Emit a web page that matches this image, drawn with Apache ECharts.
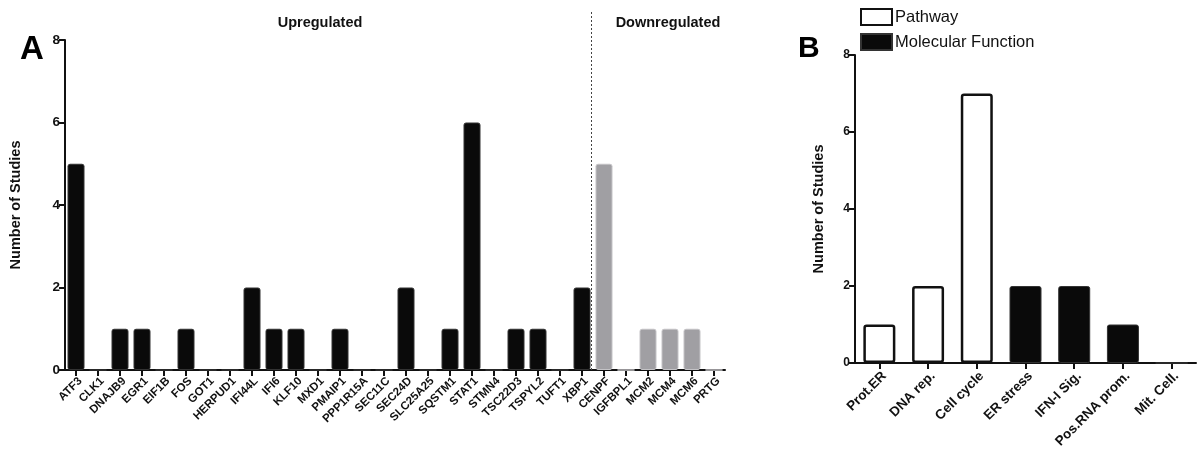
<!DOCTYPE html>
<html><head><meta charset="utf-8">
<script src="https://cdn.jsdelivr.net/npm/echarts@6/dist/echarts.min.js"></script>
<style>html,body{margin:0;padding:0;background:#fff}#c{width:1198px;height:453px}</style>
</head><body><div id="c"></div>
<script>
// Panel A data
const genesA = ['ATF3','CLK1','DNAJB9','EGR1','EIF1B','FOS','GOT1','HERPUD1','IFI44L','IFI6','KLF10','MXD1','PMAIP1','PPP1R15A','SEC11C','SEC24D','SLC25A25','SQSTM1','STAT1','STMN4','TSC22D3','TSPYL2','TUFT1','XBP1','CENPF','IGFBPL1','MCM2','MCM4','MCM6','PRTG'];
const upValues = [5,0,1,1,0,1,0,0,2,1,1,0,1,0,0,2,0,1,6,0,1,1,0,2,'-','-','-','-','-','-'];
const downValues = ['-','-','-','-','-','-','-','-','-','-','-','-','-','-','-','-','-','-','-','-','-','-','-','-',5,0,1,1,1,0];
// Panel B data
const termsB = ['Prot.ER','DNA rep.','Cell cycle','ER stress','IFN-I Sig.','Pos.RNA prom.','Mit. Cell.'];
const pathwayValues = [1,2,7,'-','-','-','-'];
const molFuncValues = ['-','-','-',2,2,1,0];
const yTicks = [0,2,4,6,8];

const FONT = 'Liberation Sans, Arial, sans-serif';
const chart = echarts.init(document.getElementById('c'));
const axisLine = {show:true, lineStyle:{color:'#111', width:2}};
const axisTick = {show:true, length:6, lineStyle:{color:'#111', width:2}};
function yAxis(gi, gap, fs){
  return {type:'value', gridIndex:gi, min:yTicks[0], max:yTicks[yTicks.length-1], interval:2,
    axisLine, axisTick, splitLine:{show:false},
    axisLabel:{color:'#111', fontWeight:'bold', fontSize:fs, fontFamily:FONT, margin:5},
    name:'Number of Studies', nameLocation:'middle', nameRotate:90, nameGap:gap,
    nameTextStyle:{color:'#111', fontWeight:'bold', fontSize:14.5, fontFamily:FONT}};
}
function xAxis(gi, data, fs, m){
  return {type:'category', gridIndex:gi, data, axisLine, axisTick:{...axisTick, alignWithLabel:true},
    axisLabel:{rotate:45, interval:0, color:'#111', fontWeight:'bold', fontSize:fs, fontFamily:FONT, margin:m,
      align:'right', verticalAlign:'top'}};
}
chart.setOption({
  animation:false,
  title:[
    {text:'A', left:15, top:28, textStyle:{fontSize:33, fontWeight:'bold', color:'#000', fontFamily:FONT}},
    {text:'B', left:793, top:29, textStyle:{fontSize:30, fontWeight:'bold', color:'#000', fontFamily:FONT}},
    {text:'Upregulated', left:315, top:10, textAlign:'center', textStyle:{fontSize:14.5, fontWeight:'bold', color:'#111', fontFamily:FONT}},
    {text:'Downregulated', left:663, top:10, textAlign:'center', textStyle:{fontSize:14.5, fontWeight:'bold', color:'#111', fontFamily:FONT}}
  ],
  legend:{left:855, top:3, orient:'vertical', itemWidth:31, itemHeight:16, itemGap:7, icon:'rect',
    data:['Pathway','Molecular Function'],
    textStyle:{fontSize:16.5, color:'#111', fontFamily:FONT, padding:[0,0,0,-2]}},
  grid:[
    {left:65, top:40, width:660, height:330},
    {left:855, top:55, width:341, height:308}
  ],
  xAxis:[xAxis(0, genesA, 11.5, 5), xAxis(1, termsB, 13.5, 6)],
  yAxis:[yAxis(0, 42, 13.5), yAxis(1, 29, 12)],
  series:[
    {name:'Upregulated', type:'bar', xAxisIndex:0, yAxisIndex:0, stack:'a', data:upValues, barWidth:17,
      itemStyle:{color:'#0a0a0a', borderColor:'#333', borderWidth:1, borderRadius:2}},
    {name:'Downregulated', type:'bar', xAxisIndex:0, yAxisIndex:0, stack:'a', data:downValues, barWidth:17,
      itemStyle:{color:'#a09fa3', borderColor:'#c4c3c6', borderWidth:1, borderRadius:2}},
    {name:'Pathway', type:'bar', xAxisIndex:1, yAxisIndex:1, stack:'b', data:pathwayValues, barWidth:32,
      itemStyle:{color:'#fff', borderColor:'#111', borderWidth:2.5, borderRadius:2}},
    {name:'Molecular Function', type:'bar', xAxisIndex:1, yAxisIndex:1, stack:'b', data:molFuncValues, barWidth:34,
      itemStyle:{color:'#0a0a0a', borderColor:'#333', borderWidth:1, borderRadius:2}}
  ]
});
// dashed divider between up and down regulated groups
const pLast = chart.convertToPixel({xAxisIndex:0}, 'XBP1');
const pFirst = chart.convertToPixel({xAxisIndex:0}, 'CENPF');
const yBase = chart.convertToPixel({yAxisIndex:0}, 0);
const xDiv = Math.round((pLast + pFirst)/2) - 1.5;
chart.setOption({graphic:[{type:'line', shape:{x1:xDiv, y1:12, x2:xDiv, y2:yBase}, style:{stroke:'#444', lineWidth:1, lineDash:[2,2]}, z:10}]});
</script></body></html>
